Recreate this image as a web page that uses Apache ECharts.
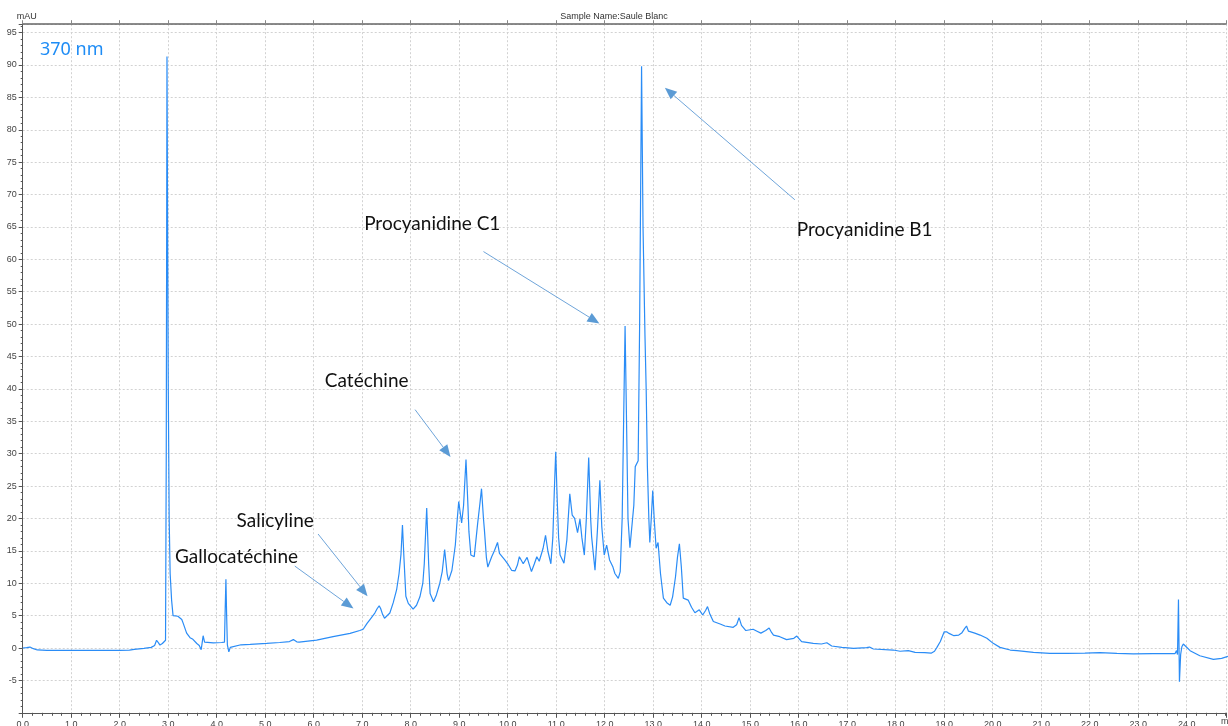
<!DOCTYPE html>
<html>
<head>
<meta charset="utf-8">
<script src="https://cdn.jsdelivr.net/npm/echarts@6/dist/echarts.min.js"></script>
<style>
  html, body { margin: 0; padding: 0; background: #fff; }
  #chart { width: 1228px; height: 726px; }
</style>
</head>
<body>
<div id="chart"></div>
<script>
// Chromatogram of "Saule Blanc" recorded at 370 nm (retention time in min, signal in mAU)
const retentionTime = [
  0.00, 0.08, 0.15, 0.22, 0.30, 0.50, 1.00, 1.50, 2.00, 2.20, 2.30, 2.50, 2.65, 2.72, 2.76, 2.80, 2.83, 2.88, 2.92, 2.945,
  2.96, 2.975, 2.99, 3.00, 3.02, 3.04, 3.07, 3.10, 3.14, 3.20, 3.24, 3.28, 3.31, 3.38, 3.45, 3.50, 3.52, 3.59, 3.64, 3.68,
  3.70, 3.72, 3.75, 3.78, 3.93, 4.10, 4.16, 4.175, 4.19, 4.205, 4.22, 4.25, 4.28, 4.31, 4.50, 4.69, 5.03, 5.30, 5.50, 5.58,
  5.65, 5.70, 6.06, 6.40, 6.75, 6.95, 7.02, 7.10, 7.16, 7.21, 7.26, 7.31, 7.35, 7.38, 7.42, 7.46, 7.50, 7.57, 7.64, 7.71,
  7.76, 7.80, 7.83, 7.86, 7.90, 7.95, 8.05, 8.12, 8.19, 8.25, 8.28, 8.33, 8.37, 8.40, 8.47, 8.53, 8.60, 8.65, 8.70, 8.75,
  8.78, 8.85, 8.92, 8.95, 8.99, 9.05, 9.09, 9.14, 9.18, 9.20, 9.24, 9.31, 9.38, 9.43, 9.46, 9.50, 9.52, 9.56, 9.59, 9.67,
  9.73, 9.79, 9.83, 9.94, 10.00, 10.08, 10.15, 10.20, 10.24, 10.32, 10.40, 10.44, 10.49, 10.55, 10.60, 10.65, 10.73, 10.78, 10.83, 10.89,
  10.93, 10.96, 10.99, 11.02, 11.05, 11.08, 11.16, 11.22, 11.28, 11.33, 11.38, 11.41, 11.44, 11.49, 11.53, 11.58, 11.62, 11.67, 11.71, 11.73,
  11.80, 11.85, 11.90, 11.94, 11.99, 12.04, 12.10, 12.17, 12.21, 12.28, 12.32, 12.36, 12.39, 12.42, 12.45, 12.48, 12.52, 12.56, 12.60, 12.63,
  12.66, 12.69, 12.72, 12.76, 12.79, 12.83, 12.855, 12.88, 12.91, 12.93, 12.96, 12.99, 13.02, 13.06, 13.10, 13.15, 13.21, 13.28, 13.35, 13.40,
  13.46, 13.50, 13.54, 13.58, 13.62, 13.66, 13.72, 13.79, 13.86, 13.95, 14.02, 14.08, 14.12, 14.17, 14.24, 14.38, 14.48, 14.65, 14.72, 14.77,
  14.82, 14.91, 15.06, 15.14, 15.22, 15.32, 15.39, 15.44, 15.48, 15.61, 15.75, 15.90, 15.96, 16.06, 16.30, 16.47, 16.58, 16.68, 16.89, 17.13,
  17.40, 17.46, 17.54, 17.95, 18.09, 18.26, 18.40, 18.60, 18.73, 18.80, 18.85, 18.92, 19.00, 19.05, 19.10, 19.20, 19.30, 19.36, 19.42, 19.46,
  19.50, 19.53, 19.63, 19.74, 19.88, 20.01, 20.15, 20.36, 20.50, 20.84, 21.18, 21.53, 21.90, 22.21, 22.56, 22.90, 23.30, 23.76, 23.79, 23.81,
  23.83, 23.85, 23.875, 23.90, 23.93, 24.07, 24.27, 24.55, 24.72, 24.85
];
const absorbance = [
  0.0, 0.05, 0.15, -0.1, -0.3, -0.35, -0.35, -0.35, -0.35, -0.33, -0.2, -0.05, 0.1, 0.4, 1.2, 0.8, 0.45, 0.7, 0.9, 1.2,
  30, 91.3, 60, 42, 20, 11.5, 7.4, 5.0, 4.9, 4.9, 5.1, 4.4, 3.8, 2.3, 1.6, 1.4, 1.1, 0.7, 0.4, -0.25,
  0.8, 1.9, 0.9, 0.7, 0.8, 0.85, 0.9, 6, 10.6, 5, 0.5, -0.6, 0.1, 0.36, 0.5, 0.57, 0.72, 0.85, 1.0, 1.3,
  0.95, 0.9, 1.23, 1.75, 2.27, 2.7, 2.9, 3.8, 4.4, 4.9, 5.4, 6.1, 6.5, 6.1, 5.2, 4.6, 4.7, 5.4, 7.0, 9.0,
  11.5, 14.5, 19.0, 14.0, 8.0, 6.9, 6.0, 6.6, 7.9, 10.0, 13.0, 21.6, 13.0, 8.4, 7.15, 8.2, 10.0, 11.8, 15.2, 11.5,
  10.4, 12.0, 15.9, 19.0, 22.6, 19.3, 22.0, 29.1, 22.0, 18.0, 14.35, 14.1, 19.2, 22.5, 24.6, 20.0, 18.2, 14.0, 12.5, 14.1,
  15.1, 16.3, 14.6, 13.6, 13.0, 12.0, 11.9, 12.8, 14.1, 13.0, 14.0, 13.0, 11.8, 13.0, 14.1, 13.4, 15.4, 17.4, 14.9, 13.0,
  17.0, 24.0, 30.3, 23.0, 17.0, 14.35, 13.1, 16.7, 23.8, 20.5, 20.0, 20.0, 17.8, 19.9, 17.0, 14.35, 19.75, 29.4, 20.0, 17.2,
  12.0, 18.2, 25.9, 18.7, 14.35, 15.9, 13.6, 12.5, 11.5, 10.75, 11.8, 20.0, 35.0, 49.7, 35.0, 20.0, 15.5, 15.8, 22.0, 28.0,
  28.0, 28.9, 50.0, 89.8, 65.0, 48.3, 40.0, 28.0, 20.0, 16.3, 20.0, 24.3, 20.0, 15.4, 16.3, 11.5, 7.7, 7.0, 6.6, 7.9,
  11.0, 14.0, 16.1, 12.5, 7.7, 7.6, 7.4, 6.3, 5.45, 5.9, 5.1, 5.8, 6.4, 5.2, 4.1, 3.7, 3.4, 3.2, 3.6, 4.7,
  3.5, 2.7, 2.9, 2.6, 2.3, 2.7, 3.1, 2.4, 2.0, 1.75, 1.3, 1.5, 1.85, 0.98, 0.72, 0.62, 0.82, 0.31, 0.1, -0.05,
  0.05, 0.15, -0.15, -0.31, -0.5, -0.41, -0.66, -0.72, -0.8, -0.5, 0.1, 1.0, 2.5, 2.5, 2.26, 1.9, 2.0, 2.3, 3.0, 3.4,
  2.6, 2.3, 2.3, 2.0, 1.5, 0.72, 0.1, -0.31, -0.41, -0.67, -0.82, -0.82, -0.8, -0.72, -0.82, -0.9, -0.85, -0.85, -0.4, -1.0,
  7.5, -5.2, -1.0, 0.2, 0.62, -0.41, -1.2, -1.75, -1.6, -1.3
];

// Compound annotations: label text, label anchor (left, middle) and arrow tail / tip, in axis units
const compoundNames = ['Procyanidine B1', 'Procyanidine C1', 'Catéchine', 'Salicyline', 'Gallocatéchine'];
const labelAnchors = [[15.96, 64.6], [7.04, 65.5], [6.23, 41.2], [4.41, 19.6], [3.14, 14.1]];
const arrowTails = [[15.92, 69.2], [9.50, 61.2], [8.09, 36.8], [6.09, 17.6], [5.61, 12.65]];
const arrowTips = [[13.24, 86.5], [11.89, 50.1], [8.82, 29.5], [7.11, 8.0], [6.82, 6.1]];

const X_MIN = 0, X_MAX = 24.81, Y_MIN = -10, Y_MAX = 96.3;

const chart = echarts.init(document.getElementById('chart'), null, { renderer: 'canvas' });

const axisColor = '#555';
const gridLine = { show: true, lineStyle: { color: '#d2d2d2', type: [2, 2], width: 1 } };

chart.setOption({
  animation: false,
  backgroundColor: '#fff',
  title: {
    text: 'Sample Name:Saule Blanc',
    left: 'center',
    top: 7,
    textStyle: { fontSize: 9, fontWeight: 'normal', color: '#333', fontFamily: 'Liberation Sans' }
  },
  grid: { left: 22.7, right: 2, top: 24.2, bottom: 13.2, containLabel: false, outerBoundsMode: 'none' },
  xAxis: [
    {
      type: 'value', min: X_MIN, max: X_MAX, interval: 1, position: 'bottom',
      axisLine: { show: true, onZero: false, lineStyle: { color: axisColor, width: 1 } },
      axisTick: { show: true, length: 5, lineStyle: { color: axisColor } },
      minorTick: { show: true, splitNumber: 5, length: 3, lineStyle: { color: axisColor } },
      axisLabel: {
        fontSize: 9, color: '#444', margin: 7, fontFamily: 'Liberation Sans',
        formatter: v => Math.abs(v - Math.round(v)) < 1e-6 ? v.toFixed(1) : ''
      },
      splitLine: gridLine
    },
    {
      type: 'value', min: X_MIN, max: X_MAX, interval: 1, position: 'top',
      axisLine: { show: true, onZero: false, lineStyle: { color: '#666', width: 1.5 } },
      axisTick: { show: true, length: 4, lineStyle: { color: '#888' } },
      axisLabel: { show: false },
      splitLine: { show: false }
    }
  ],
  yAxis: {
    type: 'value', min: Y_MIN, max: Y_MAX, interval: 5,
    name: 'mAU', nameLocation: 'end', nameGap: 3,
    nameTextStyle: { fontSize: 9, color: '#333', fontFamily: 'Liberation Sans', align: 'left', padding: [0, 0, 0, -6] },
    axisLine: { show: true, onZero: false, lineStyle: { color: axisColor, width: 1 } },
    axisTick: { show: true, length: 4, lineStyle: { color: axisColor } },
    minorTick: { show: true, splitNumber: 5, length: 2, lineStyle: { color: axisColor } },
    axisLabel: {
      fontSize: 9, color: '#444', margin: 6, fontFamily: 'Liberation Sans',
      formatter: v => (Math.abs(v / 5 - Math.round(v / 5)) < 1e-6 && v > Y_MIN) ? String(Math.round(v)) : ''
    },
    splitLine: gridLine
  },
  series: [{
    name: '370 nm',
    type: 'line',
    xAxisIndex: 0,
    data: retentionTime.map((t, i) => [t, absorbance[i]]),
    showSymbol: false,
    symbol: 'none',
    clip: true,
    lineStyle: { color: '#2a8cf6', width: 1.2 }
  }]
});

// Labels and arrows, positioned through the grid's coordinate system
const toPx = p => chart.convertToPixel({ gridIndex: 0 }, p);
const graphics = [
  {
    type: 'text', left: 40, top: 41,
    style: { text: '370 nm', fill: '#1e8cf5', fontSize: 18, fontFamily: 'Noto Sans' }
  },
  {
    type: 'text', x: 1221, y: 722,
    style: { text: 'min', fill: '#444', fontSize: 9, fontFamily: 'Liberation Sans', verticalAlign: 'middle' }
  }
];
compoundNames.forEach((name, i) => {
  const a = toPx(labelAnchors[i]);
  graphics.push({
    type: 'text', x: a[0], y: a[1],
    style: { text: name, fill: '#111', fontSize: 19, fontFamily: 'Lato', verticalAlign: 'middle', align: 'left' }
  });
  const s = toPx(arrowTails[i]);
  const e = toPx(arrowTips[i]);
  const dx = e[0] - s[0], dy = e[1] - s[1];
  const len = Math.hypot(dx, dy);
  const ux = dx / len, uy = dy / len;
  const headLen = 12, headHalf = 5;
  const bx = e[0] - ux * headLen, by = e[1] - uy * headLen;
  graphics.push({
    type: 'line',
    shape: { x1: s[0], y1: s[1], x2: bx, y2: by },
    style: { stroke: '#6fa5da', lineWidth: 1 }
  });
  graphics.push({
    type: 'polygon',
    shape: { points: [[e[0], e[1]], [bx - uy * headHalf, by + ux * headHalf], [bx + uy * headHalf, by - ux * headHalf]] },
    style: { fill: '#5b9bd5' }
  });
});
chart.setOption({ graphic: graphics });
</script>
</body>
</html>
